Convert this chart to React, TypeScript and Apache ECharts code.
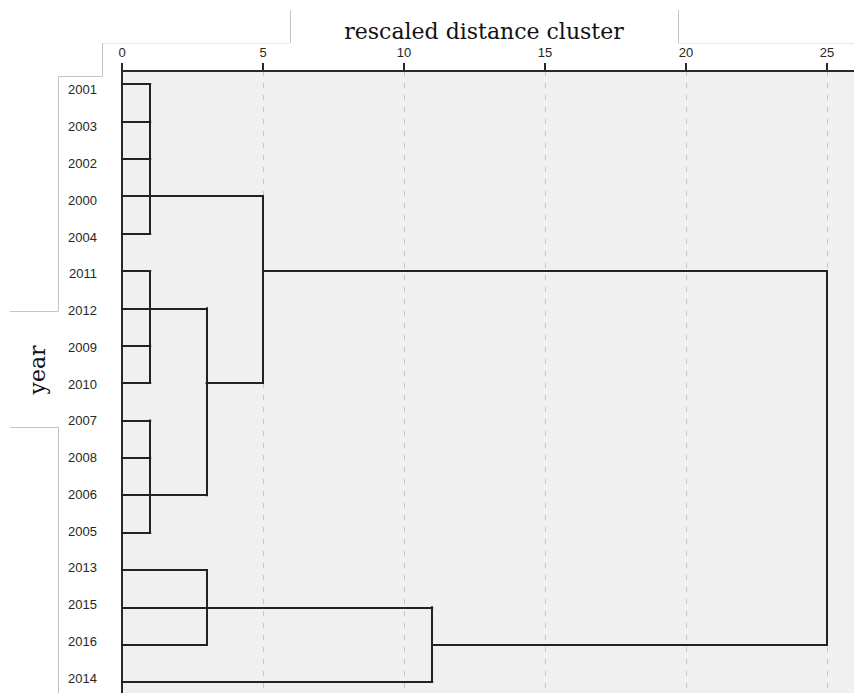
import React, { useEffect, useRef } from "react";
import * as echarts from "echarts";

// Leaf order (top to bottom)
const years = ["2001", "2003", "2002", "2000", "2004", "2011", "2012", "2009", "2010", "2007", "2008", "2006", "2005", "2013", "2015", "2016", "2014"];
// distance at which each leaf first joins a cluster
const leafJoin = [1, 1, 1, 1, 1, 1, 1, 1, 1, 1, 1, 1, 1, 3, 3, 3, 11];
// merges: rescaled distance, span of rows joined, row the cluster line leaves from, distance of parent merge
const mergeDist = [1, 1, 1, 3, 5, 3, 11, 25];
const mergeFrom = [0, 5, 9, 6, 3, 13, 14, 5];
const mergeTo = [4, 8, 12, 11, 8, 15, 16, 15];
const mergeRow = [3, 6, 11, 8, 5, 14, 15, -1];
const mergeParent = [5, 3, 3, 5, 25, 11, 25, -1];
const xTicks = [0, 5, 10, 15, 20, 25];

function buildSegments() {
  const segs: number[][][] = [];
  years.forEach((_, i) => segs.push([[0, i], [leafJoin[i], i]]));
  mergeDist.forEach((d, k) => {
    segs.push([[d, mergeFrom[k]], [d, mergeTo[k]]]);
    if (mergeRow[k] >= 0) segs.push([[d, mergeRow[k]], [mergeParent[k], mergeRow[k]]]);
  });
  return segs;
}

export default function App() {
  const ref = useRef<HTMLDivElement>(null);
  useEffect(() => {
    if (!ref.current) return;
    const chart = echarts.init(ref.current, null, { renderer: "svg" });
    const segs = buildSegments();
    const frame = "#c4c4c4";
    const faint = "#e8e8e8";
    chart.setOption({
      animation: false,
      grid: {
        left: 122, right: 0, top: 71, bottom: 0,
        containLabel: false, outerBoundsMode: "none",
        show: true, backgroundColor: "#f0f0f0", borderWidth: 0,
      },
      xAxis: {
        type: "value",
        position: "top",
        min: 0,
        max: 25.96,
        interval: 5,
        axisLine: { show: true, onZero: false, lineStyle: { color: "#2a2a2a", width: 2 } },
        axisTick: { show: true, length: 8, lineStyle: { color: "#2a2a2a", width: 2 }, customValues: xTicks },
        axisLabel: {
          customValues: xTicks,
          margin: 12,
          color: "#262626",
          fontFamily: "Liberation Sans",
          fontSize: 13,
          formatter: (v: number) => String(v),
        },
        splitLine: { show: true, lineStyle: { color: "#c8c8c8", width: 1, type: [5, 7] } },
      },
      yAxis: [
        {
          type: "value",
          inverse: true,
          min: -0.3478,
          max: 16.294,
          axisLine: { show: true, onZero: false, lineStyle: { color: "#2a2a2a", width: 2 } },
          axisTick: { show: false },
          splitLine: { show: false },
          axisLabel: { show: false },
        },
        {
          type: "value",
          position: "left",
          inverse: true,
          min: -0.517,
          max: 16.408,
          axisLine: { show: false, onZero: false },
          axisTick: { show: false },
          splitLine: { show: false },
          axisLabel: {
            customValues: years.map((_, i) => i),
            formatter: (v: number) => years[Math.round(v)] ?? "",
            margin: 25,
            color: "#262626",
            fontFamily: "Liberation Sans",
            fontSize: 13,
          },
        },
      ],
      series: [
        {
          type: "lines",
          coordinateSystem: "cartesian2d",
          xAxisIndex: 0,
          yAxisIndex: 0,
          polyline: false,
          silent: true,
          lineStyle: { color: "#222", width: 2, opacity: 1, cap: "square" },
          data: segs.map((c) => ({ coords: c })),
        },
      ],
      graphic: [
        { type: "text", x: 484, y: 31, style: { text: "rescaled distance cluster", font: '22px "DejaVu Serif"', fill: "#111", textAlign: "center", textVerticalAlign: "middle" } },
        { type: "text", x: 37, y: 370, rotation: Math.PI / 2, style: { text: "year", font: '22px "DejaVu Serif"', fill: "#111", textAlign: "center", textVerticalAlign: "middle" } },
        { type: "line", shape: { x1: 290.5, y1: 10, x2: 290.5, y2: 43 }, style: { stroke: frame, lineWidth: 1 } },
        { type: "line", shape: { x1: 102, y1: 43.5, x2: 290, y2: 43.5 }, style: { stroke: faint, lineWidth: 1 } },
        { type: "polyline", shape: { points: [[102.5, 43], [102.5, 76.5], [58.5, 76.5], [58.5, 311.5], [10, 311.5]] }, style: { stroke: frame, lineWidth: 1, fill: "none" } },
        { type: "polyline", shape: { points: [[10, 427.5], [58.5, 427.5], [58.5, 693]] }, style: { stroke: frame, lineWidth: 1, fill: "none" } },
        { type: "line", shape: { x1: 678.5, y1: 10, x2: 678.5, y2: 43 }, style: { stroke: frame, lineWidth: 1 } },
        { type: "line", shape: { x1: 678, y1: 43.5, x2: 854, y2: 43.5 }, style: { stroke: faint, lineWidth: 1 } },
      ],
    });
    return () => chart.dispose();
  }, []);
  return <div ref={ref} style={{ position: "fixed", left: 0, top: 0, width: 854, height: 693, background: "#fff" }} />;
}
